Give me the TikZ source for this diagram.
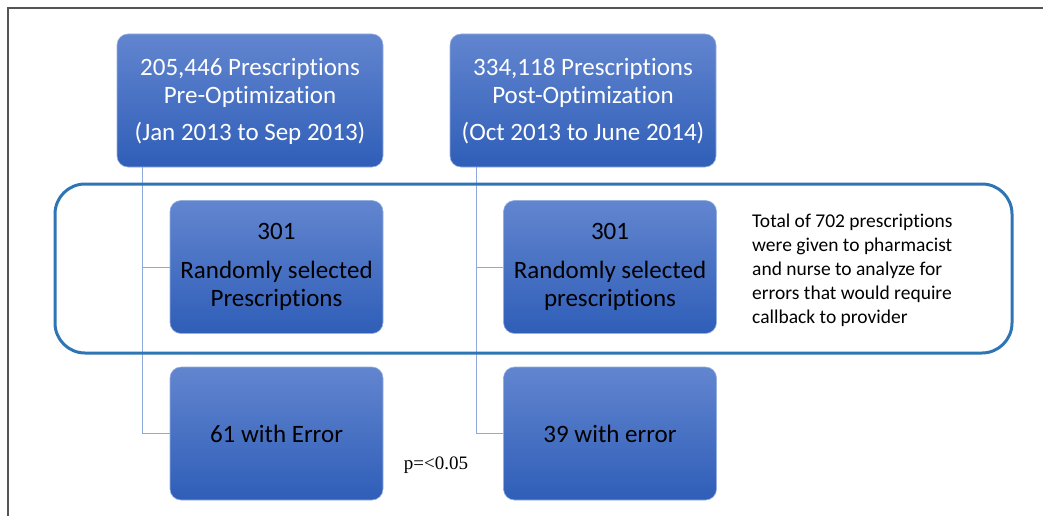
\documentclass[tikz,border=0pt]{standalone}
\usepackage{fontspec}
\setmainfont{Carlito}[Ligatures=NoCommon]
\newfontfamily\pserif{Liberation Serif}
\definecolor{boxtop}{RGB}{98,133,207}
\definecolor{boxbot}{RGB}{47,94,184}
\definecolor{boxedge}{RGB}{150,175,225}
\definecolor{connc}{RGB}{142,169,219}
\definecolor{groupc}{RGB}{46,117,182}
\definecolor{framec}{RGB}{85,85,85}
\begin{document}
\begin{tikzpicture}[x=1pt,y=-1pt,
  bluebox/.style={rectangle, rounded corners=11pt, top color=boxtop, bottom color=boxbot,
    draw=boxedge, line width=0.6pt, align=center, inner sep=0pt,
    font=\fontsize{25}{28}\selectfont},
  topbox/.style={bluebox, text=white, minimum width=266pt, minimum height=133pt, text depth=3pt},
  lowbox/.style={bluebox, text=black, minimum width=213pt, minimum height=133pt},
  connline/.style={draw=connc, line width=1pt}]
\useasboundingbox (0,0) rectangle (1043,516);
\draw[framec, line width=1.5pt] (8,516) -- (8,8) -- (1043,8);

\node[topbox] (pre) at (250,100.5) {205,446 Prescriptions\\Pre-Optimization\\[9pt](Jan 2013 to Sep 2013)};
\node[topbox] (post) at (583,100.5) {334,118 Prescriptions\\Post-Optimization\\[9pt](Oct 2013 to June 2014)};

\node[lowbox] (sel1) at (276.5,267) {301\\[11pt]Randomly selected\\Prescriptions};
\node[lowbox] (sel2) at (610,267) {301\\[11pt]Randomly selected\\prescriptions};

\node[lowbox] (err1) at (276.5,433.5) {61 with Error};
\node[lowbox] (err2) at (610,433.5) {39 with error};

\coordinate (c1) at ([xshift=26pt]pre.south west);
\coordinate (c2) at ([xshift=27pt]post.south west);
\draw[connline] (c1) |- (err1.west);
\draw[connline] (c1 |- sel1.west) -- (sel1.west);
\draw[connline] (c2) |- (err2.west);
\draw[connline] (c2 |- sel2.west) -- (sel2.west);

\node[draw=groupc, line width=3pt, rounded corners=30pt, minimum width=957pt, minimum height=169pt, inner sep=0pt] (group) at (533.5,268.5) {};

\node[anchor=west, align=left, inner sep=0pt, font=\fontsize{19.5}{24}\selectfont] (note) at (752,270) {Total of 702 prescriptions\\were given to pharmacist\\and nurse to analyze for\\errors that would require\\callback to provider};

\node[font=\pserif\fontsize{19}{22}\selectfont, inner sep=0pt] (pval) at (436,465) {p=<0.05};
\end{tikzpicture}
\end{document}
